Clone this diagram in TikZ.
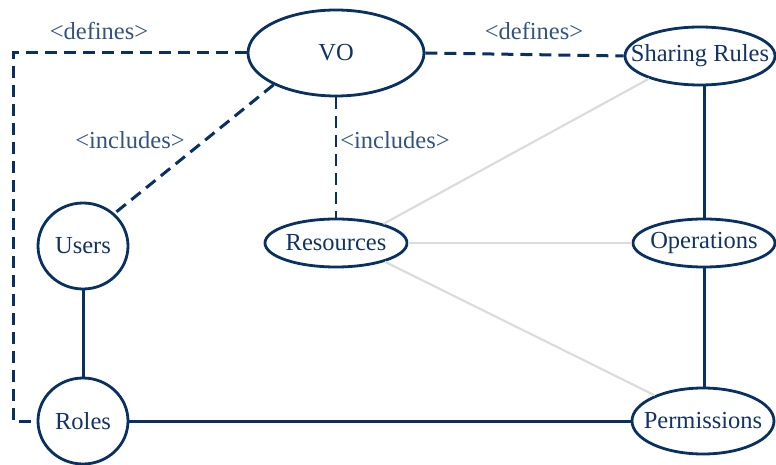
\documentclass[tikz,border=0pt]{standalone}
\usepackage{fontspec}
\setmainfont{Liberation Serif}
\usetikzlibrary{shapes.geometric}
\definecolor{navy}{RGB}{8,48,98}
\definecolor{navytext}{RGB}{18,52,100}
\definecolor{labeltext}{RGB}{50,84,128}
\definecolor{lightgray}{RGB}{220,220,220}
\tikzset{
  ent/.style={ellipse, draw=navy, line width=2.8pt, fill=white, inner sep=0pt,
    text=navytext, font=\fontsize{24.5}{28}\selectfont},
  rel/.style={draw=navy, line width=3pt},
  dashrel/.style={draw=navy, line width=3pt, dash pattern=on 12pt off 7pt},
  weak/.style={draw=lightgray, line width=2.2pt},
  lbl/.style={text=labeltext, font=\fontsize{24.5}{28}\selectfont, inner sep=0pt}
}
\begin{document}
\begin{tikzpicture}[x=1pt,y=-1pt]
\useasboundingbox (0,0) rectangle (776,465);
\node[ent, minimum width=142pt, minimum height=48pt] (res) at (336,243) {\makebox[0pt]{Resources}};
\node[ent, minimum width=176pt, minimum height=86pt] (vo) at (336,53) {\makebox[0pt]{VO}};
\node[ent, minimum width=150pt, minimum height=58pt] (sr) at (700,56) {\makebox[0pt]{Sharing Rules}};
\node[ent, minimum width=142pt, minimum height=48pt] (ops) at (704,243) {\makebox[0pt]{Operations}};
\node[ent, minimum width=142pt, minimum height=66pt] (perm) at (703,421) {\makebox[0pt]{Permissions}};
\node[ent, minimum width=90pt, minimum height=86pt] (users) at (83,246) {\makebox[0pt]{Users}};
\node[ent, minimum width=90pt, minimum height=86pt] (roles) at (83,421) {\makebox[0pt]{Roles}};
\coordinate (tl) at (13,53);
\coordinate (bl) at (13,421);
% connectors
\draw[weak] (res.22) -- (sr.204);
\draw[weak] (res.east) -- (ops.west);
\draw[weak] (res.339) -- (perm.152);
\draw[dashrel] (vo.west) -- (tl) -- (bl) -- (roles.west);
\draw[dashrel] (vo.east) -- (sr.west);
\draw[dashrel] (vo.207) -- (users.46);
\draw[dashrel, line width=2.3pt] (vo.south) -- (res.north);
\draw[rel] (ops.north |- sr.south) -- (ops.north);
\draw[rel] (ops.south) -- (ops.south |- perm.north);
\draw[rel] (users.south) -- (roles.north);
\draw[rel] (roles.east) -- (perm.west);
% labels
\node[lbl] (l1) at (99,31) {<defines>};
\node[lbl] (l2) at (534,31) {<defines>};
\node[lbl] (l3) at (130,140) {<includes>};
\node[lbl] (l4) at (395,140) {<includes>};
\end{tikzpicture}
\end{document}
